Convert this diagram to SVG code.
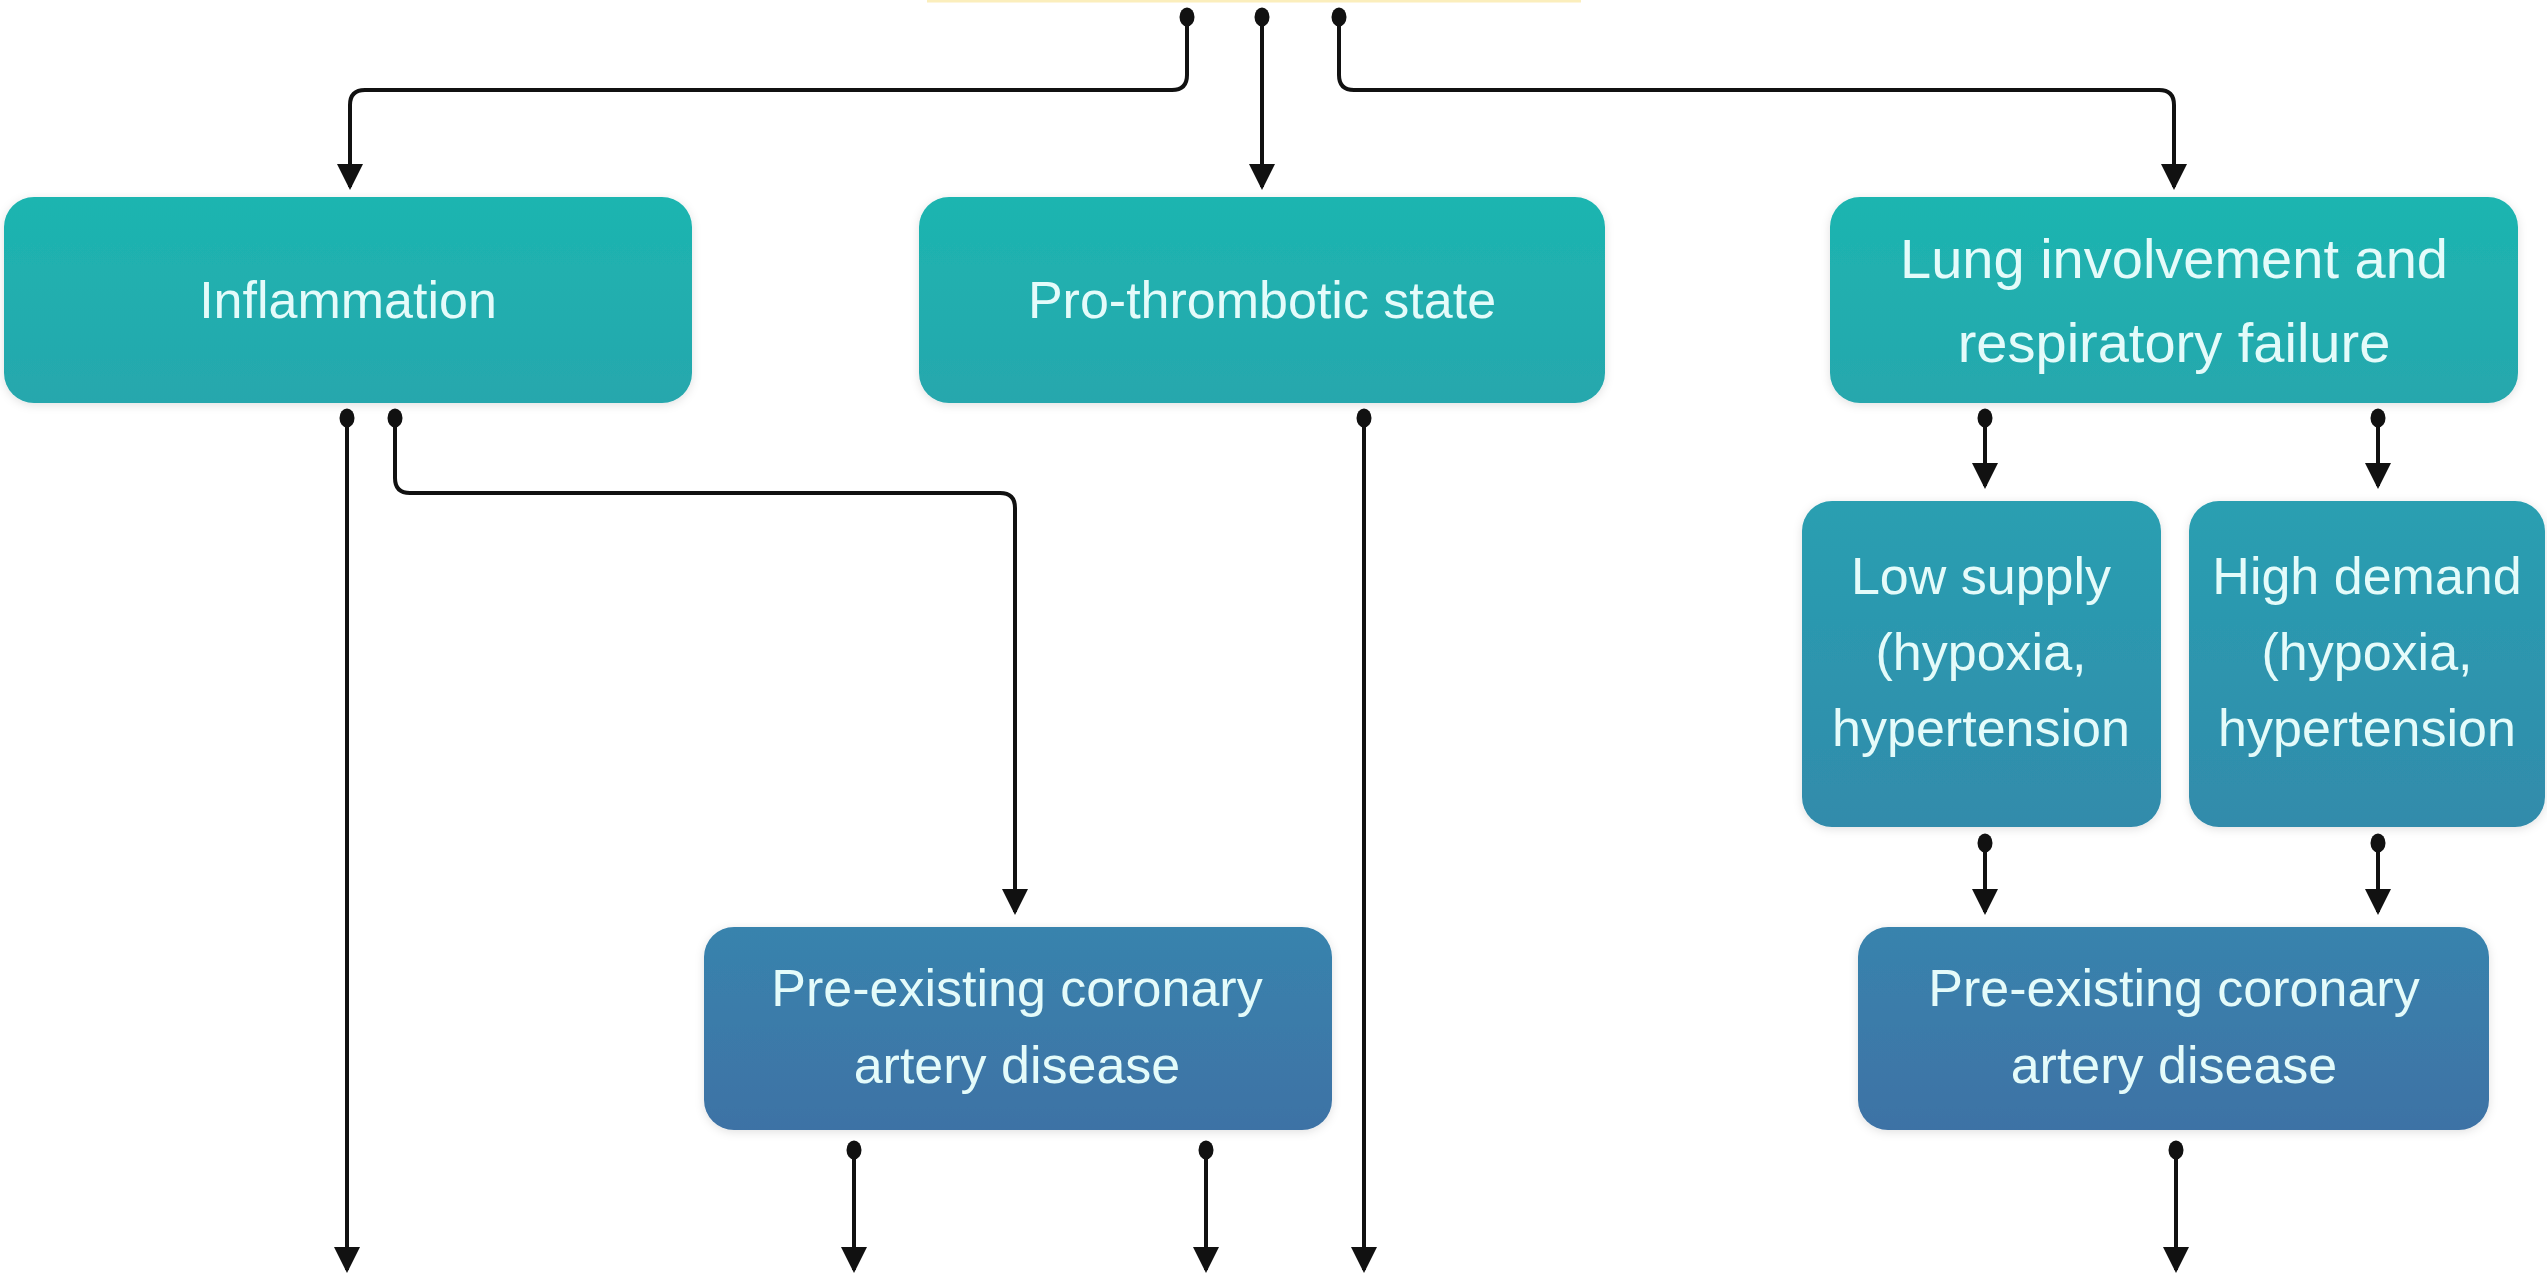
<svg xmlns="http://www.w3.org/2000/svg" width="2547" height="1275" viewBox="0 0 2547 1275">
  <style>
    .box { fill: url(#boxGrad); filter: url(#shadow); }
    .lbl { font-family: "Liberation Sans", Arial, sans-serif; font-size: 52px; fill: #e4fbfa; text-anchor: middle; }
    .big { font-size: 56px; }
    .conn { fill: none; stroke: #111; stroke-width: 4; marker-start: url(#dot); marker-end: url(#arrow); }
  </style>
  <defs>
    <linearGradient id="boxGrad" gradientUnits="userSpaceOnUse" x1="0" y1="197" x2="0" y2="1130">
      <stop offset="0" stop-color="#1db5b0"/>
      <stop offset="0.22" stop-color="#26a7ad"/>
      <stop offset="0.327" stop-color="#299fb1"/>
      <stop offset="0.677" stop-color="#318bab"/>
      <stop offset="0.785" stop-color="#3883ad"/>
      <stop offset="1" stop-color="#3e72a5"/>
    </linearGradient>
    <filter id="shadow" x="-5%" y="-10%" width="110%" height="125%">
      <feDropShadow dx="0" dy="2" stdDeviation="5" flood-color="#000" flood-opacity="0.12"/>
    </filter>
    <marker id="arrow" viewBox="0 0 26 26" refX="23" refY="13" markerWidth="26" markerHeight="26" markerUnits="userSpaceOnUse" orient="auto">
      <path d="M0,0 L26,13 L0,26 Z" fill="#111"/>
    </marker>
    <marker id="dot" viewBox="-10 -8 20 16" refX="0" refY="0" markerWidth="20" markerHeight="16" markerUnits="userSpaceOnUse" orient="auto">
      <ellipse cx="0" cy="0" rx="9.5" ry="7.5" fill="#111"/>
    </marker>
  </defs>
  <rect width="2547" height="1275" fill="#ffffff"/>

  <g id="top-node">
    <rect x="927" y="0" width="654" height="2.5" fill="#fbeebc"/>
  </g>

  <g id="connectors">
    <path class="conn" d="M1187,17 V75 Q1187,90 1172,90 H365 Q350,90 350,105 V187"/>
    <path class="conn" d="M1262,17 V187"/>
    <path class="conn" d="M1339,17 V75 Q1339,90 1354,90 H2159 Q2174,90 2174,105 V187"/>
    <path class="conn" d="M347,418 V1270"/>
    <path class="conn" d="M395,418 V478 Q395,493 410,493 H1000 Q1015,493 1015,508 V912"/>
    <path class="conn" d="M1364,418 V1270"/>
    <path class="conn" d="M1985,418 V486"/>
    <path class="conn" d="M2378,418 V486"/>
    <path class="conn" d="M1985,843 V912"/>
    <path class="conn" d="M2378,843 V912"/>
    <path class="conn" d="M854,1150 V1270"/>
    <path class="conn" d="M1206,1150 V1270"/>
    <path class="conn" d="M2176,1150 V1270"/>
  </g>

  <g id="inflammation">
    <rect class="box" x="4" y="197" width="688" height="206" rx="30"/>
    <text class="lbl" x="348" y="318">Inflammation</text>
  </g>
  <g id="pro-thrombotic">
    <rect class="box" x="919" y="197" width="686" height="206" rx="30"/>
    <text class="lbl" x="1262" y="318">Pro-thrombotic state</text>
  </g>
  <g id="lung-involvement">
    <rect class="box" x="1830" y="197" width="688" height="206" rx="30"/>
    <text class="lbl big" x="2174" y="278">Lung involvement and</text>
    <text class="lbl big" x="2174" y="362">respiratory failure</text>
  </g>
  <g id="low-supply">
    <rect class="box" x="1802" y="501" width="359" height="326" rx="30"/>
    <text class="lbl" x="1981" y="594">Low supply</text>
    <text class="lbl" x="1981" y="670">(hypoxia,</text>
    <text class="lbl" x="1981" y="746">hypertension</text>
  </g>
  <g id="high-demand">
    <rect class="box" x="2189" y="501" width="356" height="326" rx="30"/>
    <text class="lbl" x="2367" y="594">High demand</text>
    <text class="lbl" x="2367" y="670">(hypoxia,</text>
    <text class="lbl" x="2367" y="746">hypertension</text>
  </g>
  <g id="cad-left">
    <rect class="box" x="704" y="927" width="628" height="203" rx="30"/>
    <text class="lbl" x="1017" y="1006">Pre-existing coronary</text>
    <text class="lbl" x="1017" y="1083">artery disease</text>
  </g>
  <g id="cad-right">
    <rect class="box" x="1858" y="927" width="631" height="203" rx="30"/>
    <text class="lbl" x="2174" y="1006">Pre-existing coronary</text>
    <text class="lbl" x="2174" y="1083">artery disease</text>
  </g>
</svg>
